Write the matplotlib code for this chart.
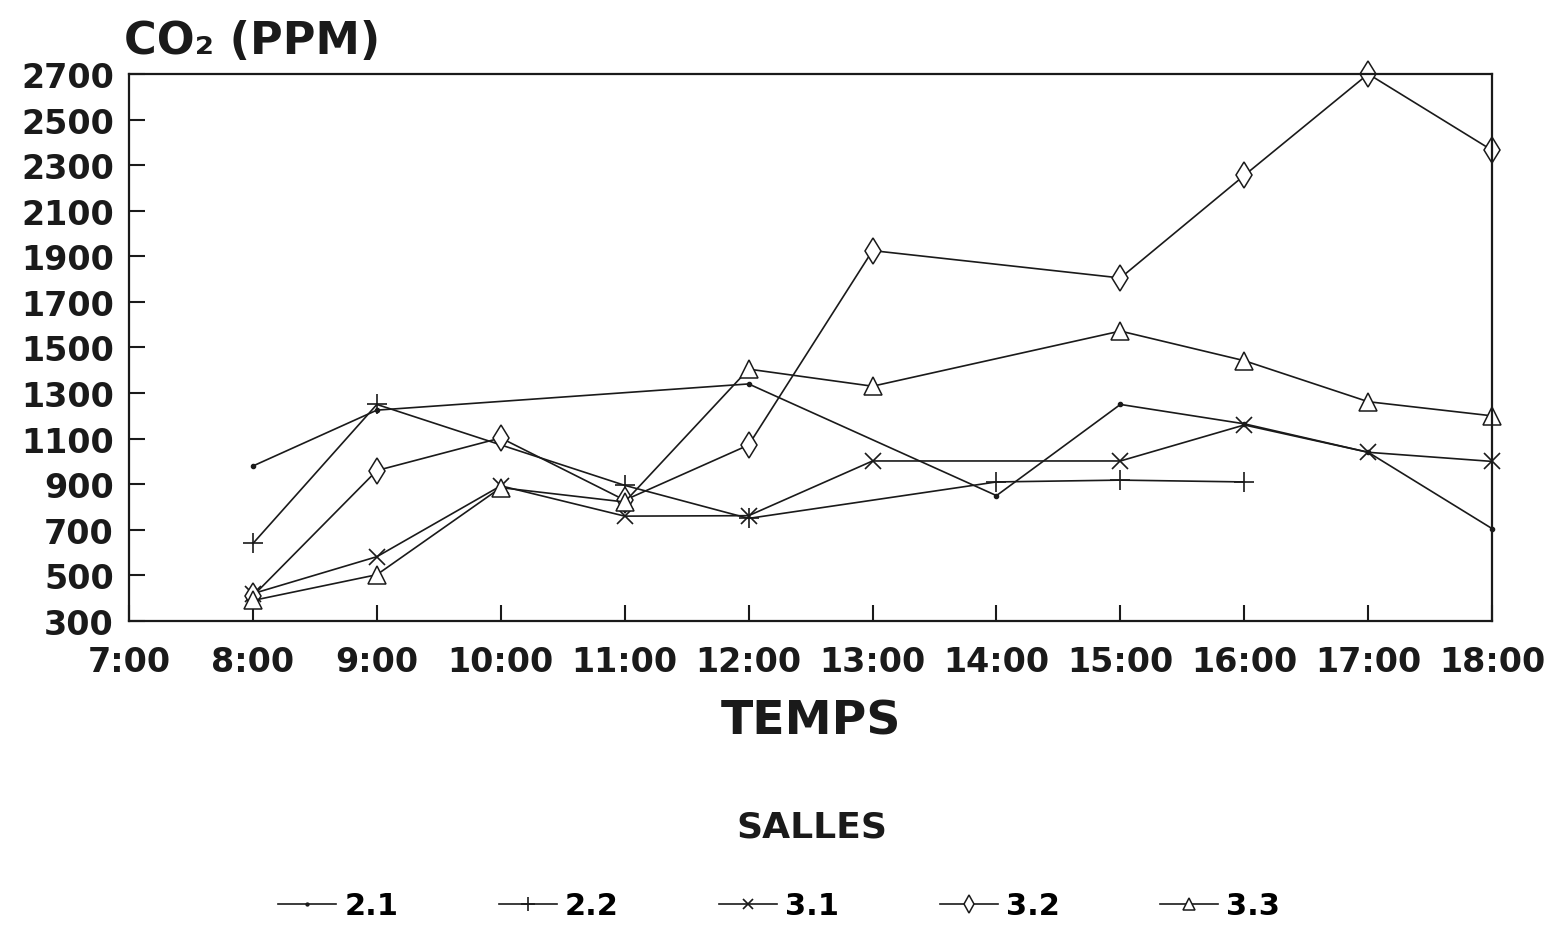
import matplotlib.pyplot as plt

plt.rcParams['font.family'] = ['DejaVu Sans']
plt.rcParams['font.weight'] = 'bold'

# heures (h) et CO2 (ppm) par salle
hours_21 = [8, 9, 12, 14, 15, 16, 17, 18]
co2_21 = [980, 1225, 1340, 850, 1250, 1165, 1040, 705]

hours_22 = [8, 9, 11, 12, 14, 15, 16]
co2_22 = [640, 1250, 895, 750, 910, 918, 910]

hours_31 = [8, 9, 10, 11, 12, 13, 15, 16, 17, 18]
co2_31 = [420, 582, 893, 760, 762, 1002, 1002, 1160, 1040, 1000]

hours_32 = [8, 9, 10, 11, 12, 13, 15, 16, 17, 18]
co2_32 = [410, 960, 1103, 830, 1072, 1925, 1805, 2255, 2700, 2365]

hours_33 = [8, 9, 10, 11, 12, 13, 15, 16, 17, 18]
co2_33 = [390, 503, 885, 822, 1405, 1330, 1572, 1442, 1262, 1200]

tick_hours = list(range(7, 19))
tick_labels = [f'{h}:00' for h in tick_hours]
y_ticks = list(range(300, 2701, 200))

fig = plt.figure(figsize=(15.49, 9.29), dpi=100)
ax = fig.add_axes([0.0833, 0.3305, 0.880, 0.5888])

c = '#1a1a1a'
lw = 1.2
kw = dict(color=c, lw=lw, clip_on=False)
ax.plot(hours_21, co2_21, marker='o', ms=3, label='2.1', **kw)
ax.plot(hours_22, co2_22, marker='+', ms=15, mew=1.2, label='2.2', **kw)
ax.plot(hours_31, co2_31, marker='x', ms=11, mew=1.2, label='3.1', **kw)
ax.plot(hours_32, co2_32, marker='d', ms=13, mew=1.1, mfc='white', label='3.2', **kw)
ax.plot(hours_33, co2_33, marker='^', ms=13, mew=1.1, mfc='white', label='3.3', **kw)

ax.set_xlim(7, 18)
ax.set_ylim(300, 2700)
ax.set_xticks(tick_hours)
ax.set_xticklabels(tick_labels)
ax.set_yticks(y_ticks)
ax.tick_params(axis='both', direction='in', length=11.5, width=1.5,
               labelsize=24, colors=c)
ax.tick_params(axis='x', pad=17)
ax.tick_params(axis='y', pad=11)
for s in ax.spines.values():
    s.set_linewidth(1.6)
    s.set_color(c)

fig.text(0.080, 0.955, 'CO₂ (PPM)', fontsize=32, ha='left', va='center', color=c)
fig.text(0.5236, 0.2228, 'TEMPS', fontsize=34, ha='center', va='center', color=c)
fig.text(0.524, 0.109, 'SALLES', fontsize=26, ha='center', va='center', color=c)

fig.legend(loc='center', bbox_to_anchor=(0.503, 0.024), ncol=5, frameon=False,
           fontsize=22, handlelength=1.9, columnspacing=3.3, handletextpad=0.25,
           markerscale=0.7)

fig.savefig('out.png', dpi=100)
